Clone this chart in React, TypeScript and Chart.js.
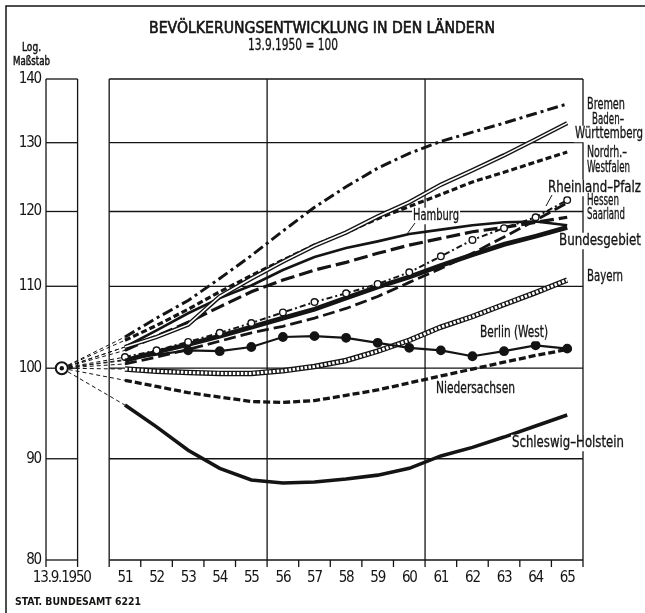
import React, { useEffect, useRef } from 'react';
import { Chart, registerables } from 'chart.js';

Chart.register(...registerables);

// ---------------- data ----------------
const years = ['51', '52', '53', '54', '55', '56', '57', '58', '59', '60', '61', '62', '63', '64', '65'];
const baseLabel = '13.9.1950';
const baseValue = 100;
const yTicks = [80, 90, 100, 110, 120, 130, 140];

const bremen = [103.7, 106.0, 108.2, 111.0, 114.0, 117.3, 120.6, 123.5, 126.2, 128.4, 130.2, 131.6, 133.0, 134.5, 136.0];
const badenWuerttemberg = [102.5, 103.7, 105.2, 108.7, 111.0, 113.2, 115.3, 117.1, 119.3, 121.3, 123.8, 125.9, 128.1, 130.5, 133.0];
const nordrheinWestfalen = [103.3, 105.1, 107.1, 109.3, 111.4, 113.4, 115.4, 117.1, 119.0, 120.7, 122.4, 124.2, 125.6, 127.1, 128.6];
const hamburg = [102.5, 104.5, 106.6, 108.5, 110.1, 112.1, 113.8, 115.0, 115.9, 116.9, 117.5, 118.1, 118.5, 118.6, 118.1];
const hessen = [102.1, 103.8, 105.5, 107.4, 109.3, 110.8, 112.1, 113.1, 114.3, 115.4, 116.3, 117.2, 117.8, 118.5, 119.2];
const rheinlandPfalz = [100.5, 101.3, 102.2, 103.2, 104.2, 105.0, 106.0, 107.2, 108.7, 110.5, 112.3, 114.3, 116.5, 118.8, 121.2];
const saarland = [101.3, 102.1, 103.1, 104.2, 105.4, 106.7, 108.0, 109.1, 110.3, 111.8, 113.9, 116.1, 117.7, 119.2, 121.6];
const bundesgebiet = [100.9, 101.9, 102.8, 103.8, 104.9, 106.0, 107.1, 108.5, 109.9, 111.2, 112.7, 114.1, 115.5, 116.6, 117.8];
const bayern = [99.9, 99.65, 99.5, 99.4, 99.4, 99.7, 100.2, 100.9, 102.0, 103.3, 104.9, 106.2, 107.7, 109.2, 110.8];
const berlinWest = [101.0, 101.6, 102.1, 102.0, 102.5, 103.7, 103.8, 103.6, 103.0, 102.4, 102.1, 101.4, 102.0, 102.7, 102.3];
const niedersachsen = [98.6, 97.9, 97.2, 96.7, 96.2, 96.1, 96.3, 96.9, 97.5, 98.3, 99.1, 99.9, 100.7, 101.5, 102.2];
const schleswigHolstein = [95.8, 93.4, 90.9, 89.0, 87.8, 87.5, 87.6, 87.9, 88.3, 89.0, 90.3, 91.2, 92.3, 93.5, 94.7];

// ---------------- styling ----------------
const INK = '#141414';
const FONT = "'Liberation Sans Narrow', 'DejaVu Sans Condensed', 'Arial Narrow', 'Liberation Sans', sans-serif";
const BASE_X = -1.5;

const toPoints = (vals: number[]) => [
  { x: BASE_X, y: baseValue },
  ...vals.map((v, i) => ({ x: i + 0.5, y: v })),
];

const fanDash = (ctx: any) => (ctx.p0DataIndex === 0 ? [4, 3] : undefined);
const fanWidth = (ctx: any) => (ctx.p0DataIndex === 0 ? 1 : undefined);
const hideFan = (ctx: any) => (ctx.p0DataIndex === 0 ? 'rgba(0,0,0,0)' : undefined);

function series(label: string, vals: number[], width: number, dash: number[], order: number, extra: any = {}) {
  return {
    label,
    data: toPoints(vals),
    borderColor: INK,
    borderWidth: width,
    borderDash: dash,
    pointRadius: 0,
    tension: 0,
    order,
    segment: { borderDash: fanDash, borderWidth: fanWidth },
    ...extra,
  };
}

function fitText(ctx: CanvasRenderingContext2D, text: string, x: number, y: number, w: number, size: number, weight = 'normal', bg = false, stroke = 0.3) {
  ctx.save();
  (ctx as any).letterSpacing = '0px';
  ctx.font = `${weight} ${size}px ${FONT}`;
  ctx.textBaseline = 'middle';
  ctx.textAlign = 'left';
  const mw = ctx.measureText(text).width;
  if (bg) {
    ctx.fillStyle = '#fff';
    ctx.fillRect(x - 1, y - size * 0.55, w + 2, size * 1.1);
  }
  ctx.translate(x, y);
  ctx.scale(w / mw, 1);
  ctx.fillStyle = INK;
  ctx.fillText(text, 0, 0);
  if (stroke > 0) {
    ctx.strokeStyle = INK;
    ctx.lineWidth = stroke;
    ctx.strokeText(text, 0, 0);
  }
  ctx.restore();
}

// annotation texts (text, x, y, width, white background)
const rightLabels: [string, number, number, number, boolean][] = [
  ['Bremen', 587, 105, 38, false],
  ['Baden–', 592, 120, 32, false],
  ['Württemberg', 575, 134, 68, true],
  ['Nordrh.–', 587, 153, 40, false],
  ['Westfalen', 587, 168, 43, false],
  ['Rheinland–Pfalz', 548, 188, 93, true],
  ['Hessen', 587, 201, 32, false],
  ['Saarland', 587, 215, 38, false],
  ['Bundesgebiet', 559, 241, 82, true],
  ['Bayern', 587, 277, 36, false],
  ['Hamburg', 413, 216, 46, true],
  ['Berlin (West)', 480, 333, 68, true],
  ['Niedersachsen', 436, 389, 79, true],
  ['Schleswig–Holstein', 512, 443, 112, true],
];

const gridPlugin = {
  id: 'oldGrid',
  beforeDraw(chart: any) {
    // condense the axis tick labels a little, like the original's narrow typeface
    (chart.ctx as any).letterSpacing = '-1.2px';
  },
  beforeDatasetsDraw(chart: any) {
    const { ctx, scales } = chart;
    (ctx as any).letterSpacing = '0px';
    const x = scales.x;
    const y = scales.y;
    const top = y.getPixelForValue(140);
    const bot = y.getPixelForValue(80);
    const line = (x1: number, y1: number, x2: number, y2: number) => {
      ctx.beginPath();
      ctx.moveTo(x1, y1);
      ctx.lineTo(x2, y2);
      ctx.stroke();
    };
    ctx.save();
    ctx.strokeStyle = INK;
    ctx.lineWidth = 1.3;
    const panels = [[-2, -1], [0, 15]];
    yTicks.forEach((v) => {
      const py = y.getPixelForValue(v);
      panels.forEach(([a, b]) => line(x.getPixelForValue(a), py, x.getPixelForValue(b), py));
    });
    [-2, -1, 0, 5, 10, 15].forEach((v) => {
      const px = x.getPixelForValue(v);
      line(px, top, px, bot + 7);
    });
    for (let k = 1; k < 15; k++) {
      if (k % 5 === 0) continue;
      const px = x.getPixelForValue(k);
      line(px, bot, px, bot + 7);
    }
    ctx.restore();
  },
  afterDatasetsDraw(chart: any) {
    const { ctx } = chart;
    ctx.save();
    // frame of the scanned sheet
    ctx.strokeStyle = INK;
    ctx.lineWidth = 1.5;
    ctx.beginPath();
    ctx.moveTo(6, 613);
    ctx.lineTo(6, 6);
    ctx.lineTo(645, 6);
    ctx.stroke();
    // titles
    fitText(ctx, 'BEVÖLKERUNGSENTWICKLUNG IN DEN LÄNDERN', 149, 29, 346, 16, 'normal', false, 0.6);
    fitText(ctx, '13.9.1950 = 100', 248, 46, 90, 16);
    fitText(ctx, 'Log.', 22, 48, 19, 13, 'normal', false, 0.5);
    fitText(ctx, 'Maßstab', 13, 62, 37, 13, 'normal', false, 0.5);
    fitText(ctx, 'STAT. BUNDESAMT 6221', 15, 602, 126, 10, 'bold', false, 0);
    rightLabels.forEach(([t, lx, ly, w, bg]) => fitText(ctx, t, lx, ly, w, 15, 'normal', bg));
    // leader lines
    ctx.lineWidth = 1;
    ctx.beginPath();
    ctx.moveTo(415, 223);
    ctx.lineTo(407, 234);
    ctx.moveTo(552, 195);
    ctx.lineTo(546, 206);
    ctx.stroke();
    ctx.restore();
  },
};

export default function App() {
  const ref = useRef<HTMLCanvasElement | null>(null);

  useEffect(() => {
    if (!ref.current) return;
    const datasets: any[] = [
      // origin marker
      {
        label: 'base', data: [{ x: BASE_X, y: baseValue }], showLine: false, order: 0,
        pointRadius: 2.2, pointBackgroundColor: INK, pointBorderWidth: 0, borderColor: INK,
      },
      {
        label: 'base ring', data: [{ x: BASE_X, y: baseValue }], showLine: false, order: 1,
        pointRadius: 6, pointBackgroundColor: '#fff', pointBorderColor: INK, pointBorderWidth: 2, borderColor: INK,
      },
      series('Bremen', bremen, 3, [11, 4, 3, 4], 20),
      series('Baden-Württemberg (white)', badenWuerttemberg, 1.6, [], 10, {
        borderColor: '#fff', segment: { borderColor: hideFan },
      }),
      series('Baden-Württemberg', badenWuerttemberg, 4.4, [], 11),
      series('Nordrh.-Westfalen', nordrheinWestfalen, 3.2, [6, 3], 20),
      series('Hamburg', hamburg, 2.6, [], 20),
      series('Hessen', hessen, 3.2, [14, 5], 20),
      series('Rheinland-Pfalz', rheinlandPfalz, 2.8, [12, 5], 20),
      series('Saarland', saarland, 2, [6, 3, 2, 3], 12, {
        pointRadius: (c: any) => (c.dataIndex >= 1 ? 3.3 : 0),
        pointBackgroundColor: '#fff', pointBorderColor: INK, pointBorderWidth: 1.4,
      }),
      series('Bundesgebiet', bundesgebiet, 4.8, [], 15),
      series('Bayern (white)', bayern, 3, [2.5, 1.5], 10, {
        borderColor: '#fff', segment: { borderColor: hideFan },
      }),
      series('Bayern', bayern, 5.5, [], 11),
      series('Berlin (West)', berlinWest, 2.2, [], 5, {
        pointRadius: (c: any) => (c.dataIndex >= 3 ? 3.8 : 0),
        pointBackgroundColor: INK, pointBorderColor: INK,
      }),
      series('Niedersachsen', niedersachsen, 3.3, [7, 3], 20),
      series('Schleswig-Holstein', schleswigHolstein, 3.6, [], 20),
    ];

    const chart = new Chart(ref.current, {
      type: 'line',
      data: { datasets },
      plugins: [gridPlugin],
      options: {
        animation: false,
        responsive: false,
        maintainAspectRatio: false,
        layout: { padding: { left: 0, right: 62, top: 79, bottom: 0 } },
        plugins: { legend: { display: false }, tooltip: { enabled: false } },
        scales: {
          x: {
            type: 'linear',
            min: -2,
            max: 15,
            grid: { display: false, drawTicks: false },
            border: { display: false },
            afterBuildTicks: (s: any) => {
              s.ticks = [{ value: BASE_X }, ...years.map((_, i) => ({ value: i + 0.5 }))];
            },
            afterFit: (s: any) => { s.height = 53; },
            ticks: {
              autoSkip: false,
              maxRotation: 0,
              minRotation: 0,
              padding: 9,
              color: INK,
              font: { family: FONT, size: 15 },
              callback: (v: any) => (v === BASE_X ? baseLabel : years[Math.round(Number(v) - 0.5)]),
            },
          },
          y: {
            type: 'logarithmic',
            min: 80,
            max: 140,
            grid: { display: false, drawTicks: false },
            border: { display: false },
            afterBuildTicks: (s: any) => { s.ticks = yTicks.map((v) => ({ value: v })); },
            afterFit: (s: any) => { s.width = 46; },
            ticks: {
              padding: 5,
              color: INK,
              font: { family: FONT, size: 15 },
              callback: (v: any) => String(v),
            },
          },
        },
      } as any,
    });
    return () => chart.destroy();
  }, []);

  return (
    <div style={{ position: 'fixed', left: 0, top: 0, width: 645, height: 613, background: '#fff' }}>
      <canvas ref={ref} width={645} height={613} style={{ display: 'block', width: 645, height: 613 }} />
    </div>
  );
}
